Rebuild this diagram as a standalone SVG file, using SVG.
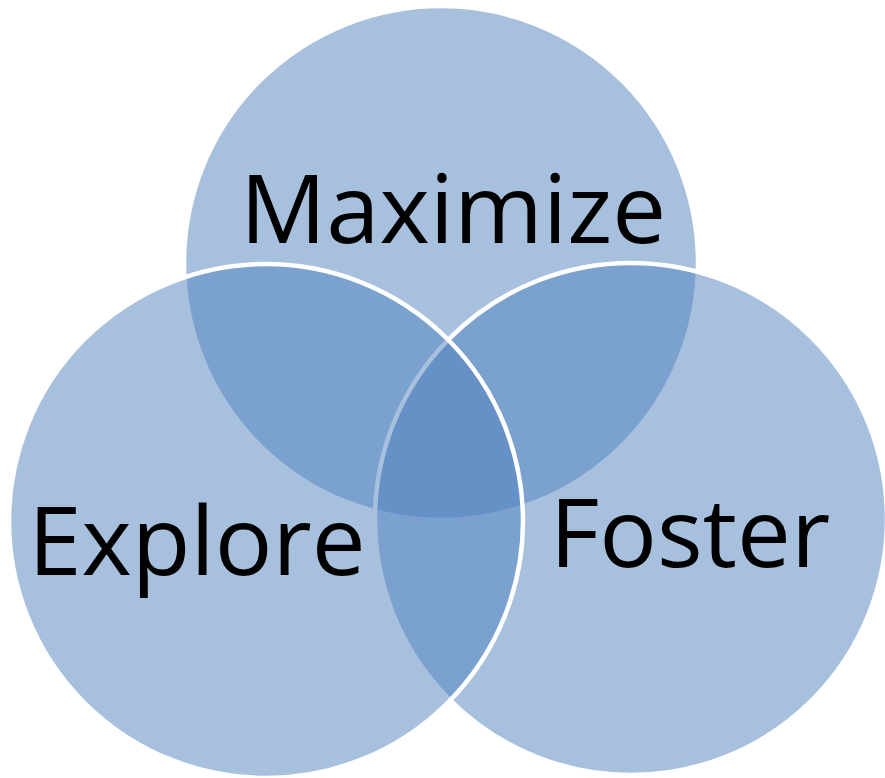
<svg xmlns="http://www.w3.org/2000/svg" width="885" height="778" viewBox="0 0 885 778">
<style>
.c{fill:#4F81BD;fill-opacity:0.5;stroke:#FFFFFF;stroke-width:4.5}
.t{font-family:"Open Sans","Noto Sans",sans-serif;font-size:96px;fill:#000000;text-anchor:middle}
</style>
<rect width="885" height="778" fill="#FFFFFF"/>
<g id="maximize">
<circle class="c" cx="441" cy="263" r="257"/>
</g>
<g id="foster">
<circle class="c" cx="631" cy="519" r="256"/>
</g>
<g id="explore">
<circle class="c" cx="266" cy="521" r="257"/>
</g>
<g id="labels">
<text class="t" x="453" y="243">Maximize</text>
<text class="t" x="197" y="575">Explore</text>
<text class="t" x="690" y="567">Foster</text>
</g>
<g id="connectors"></g>
</svg>
